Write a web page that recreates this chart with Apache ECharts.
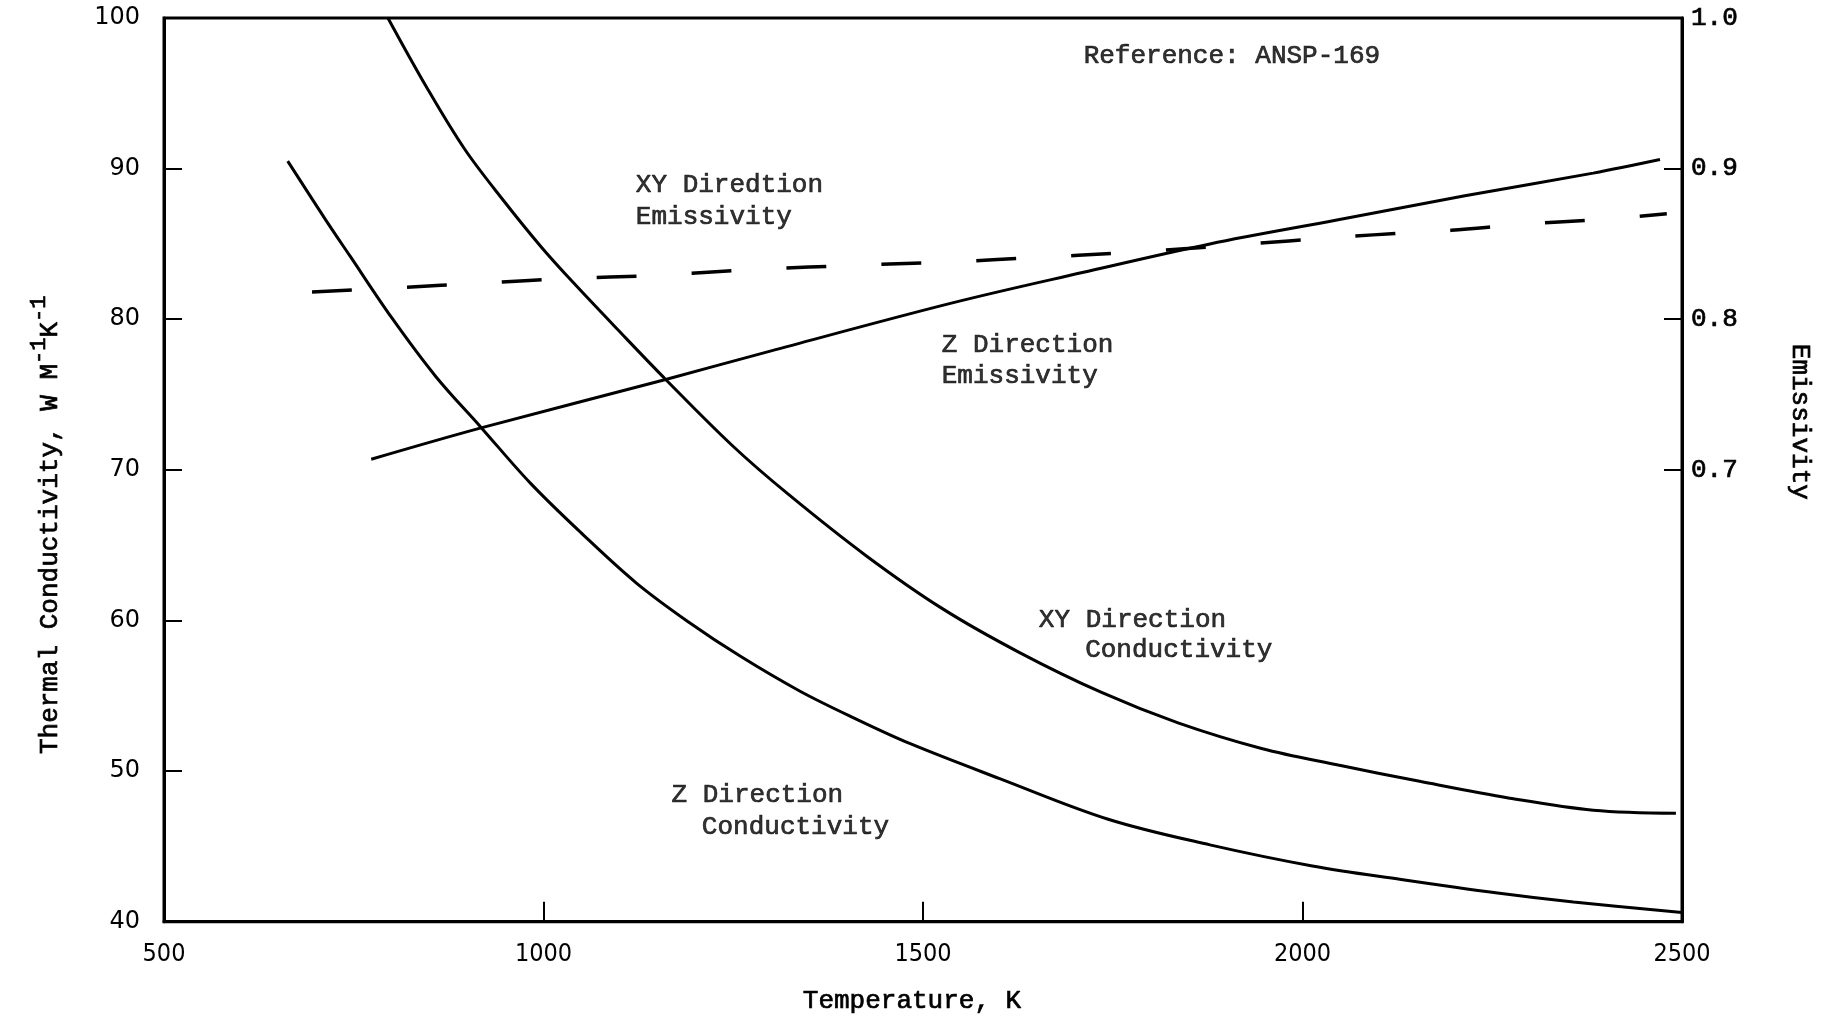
<!DOCTYPE html>
<html>
<head>
<meta charset="utf-8">
<script src="https://cdn.jsdelivr.net/npm/echarts@6/dist/echarts.min.js"></script>
<style>
  html, body { margin: 0; padding: 0; background: #fff; }
  #chart { width: 1826px; height: 1019px; }
</style>
</head>
<body>
<div id="chart"></div>
<script>
// Thermal conductivity (W m^-1 K^-1) against temperature (K)
const xyConductivity = [
  [795, 100.0], [846, 95.4], [896, 91.3], [947, 87.9], [997, 84.8], [1038, 82.5],
  [1098, 79.3], [1161, 76.0], [1249, 71.6], [1322, 68.4], [1425, 64.3], [1525, 60.8],
  [1626, 57.9], [1736, 55.2], [1836, 53.2], [1946, 51.5], [2047, 50.4], [2156, 49.3],
  [2273, 48.2], [2383, 47.4], [2492, 47.2]
];
const zConductivity = [
  [663, 90.5], [713, 86.6], [745, 84.2], [800, 80.1], [858, 76.2], [918, 72.8],
  [983, 69.1], [1052, 65.7], [1122, 62.5], [1191, 59.9], [1260, 57.6], [1338, 55.3],
  [1410, 53.5], [1484, 51.8], [1601, 49.5], [1744, 46.8], [1878, 45.1], [2013, 43.7],
  [2130, 42.8], [2257, 41.9], [2357, 41.3], [2500, 40.6]
];

// Emissivity against temperature (K)
const zEmissivity = [
  [773, 0.707], [919, 0.728], [1161, 0.760], [1300, 0.779], [1540, 0.811],
  [1710, 0.831], [1878, 0.850], [2047, 0.866], [2214, 0.882], [2383, 0.897], [2471, 0.906]
];
const xyEmissivity = [
  [695, 0.818], [811, 0.821], [919, 0.824], [1032, 0.827], [1143, 0.829], [1280, 0.833],
  [1420, 0.836], [1534, 0.838], [1650, 0.841], [1759, 0.844], [1877, 0.848], [1982, 0.852],
  [2093, 0.856], [2196, 0.859], [2290, 0.863], [2385, 0.866], [2480, 0.870]
];

// Axis ticks
const temperatureLabels = [500, 1000, 1500, 2000, 2500];
const temperatureTicks = [1000, 1500, 2000];
const conductivityLabels = [40, 50, 60, 70, 80, 90, 100];
const conductivityTicks = [50, 60, 70, 80, 90];
const emissivityLabels = [0.7, 0.8, 0.9, 1.0];
const emissivityTicks = [0.7, 0.8, 0.9];

// Curve captions, one entry per text line
const captionText = [
  'Reference: ANSP-169',
  'XY Diredtion', 'Emissivity',
  'Z Direction', 'Emissivity',
  'XY Direction', 'Conductivity',
  'Z Direction', 'Conductivity'
];
// Left-middle anchor of each caption line, in temperature / conductivity units
const captionAnchor = [
  [1711, 97.5],
  [1121, 88.9], [1121, 86.8],
  [1524, 78.3], [1524, 76.2],
  [1652, 60.0], [1713, 58.0],
  [1168, 48.4], [1208, 46.3]
];

const MONO = '"Liberation Mono", "DejaVu Sans Mono", monospace';
const INK = '#000';
// typewriter strokes are a little heavier than the plain face
const heavy = { textBorderColor: INK, textBorderWidth: 0.7 };

const chart = echarts.init(document.getElementById('chart'), null, { renderer: 'canvas' });

const curveStyle = { color: INK, width: 3 };

chart.setOption({
  animation: false,
  backgroundColor: '#fff',
  grid: {
    left: 164, right: 144, top: 18, bottom: 96,
    show: true, borderColor: INK, borderWidth: 3, backgroundColor: 'transparent'
  },
  xAxis: {
    type: 'value',
    min: 500, max: 2500, interval: 500,
    axisLine: { show: true, lineStyle: { color: INK, width: 3 } },
    axisTick: { show: true, inside: true, length: 20, customValues: temperatureTicks, lineStyle: { color: INK, width: 2 } },
    axisLabel: {
      customValues: temperatureLabels,
      formatter: v => String(v),
      color: INK, fontFamily: '"DejaVu Sans Condensed", "DejaVu Sans", sans-serif',
      fontSize: 25, margin: 20
    },
    splitLine: { show: false },
    name: 'Temperature, K',
    nameLocation: 'middle',
    nameGap: 66,
    nameTextStyle: Object.assign({ color: INK, fontFamily: MONO, fontSize: 26, padding: [0, 22, 0, 0] }, heavy)
  },
  yAxis: [
    {
      type: 'value',
      min: 40, max: 100, interval: 10,
      axisLine: { show: true, lineStyle: { color: INK, width: 3 } },
      axisTick: { show: true, inside: true, length: 18, customValues: conductivityTicks, lineStyle: { color: INK, width: 2 } },
      axisLabel: {
        customValues: conductivityLabels,
        formatter: v => String(v),
        color: INK, fontFamily: '"DejaVu Sans", sans-serif', fontSize: 24, margin: 24
      },
      splitLine: { show: false },
      name: 'Thermal Conductivity, W M{sup|-1}K{sup|-1}',
      nameLocation: 'middle',
      nameRotate: 90,
      nameGap: 92,
      nameTextStyle: Object.assign({
        color: INK, fontFamily: MONO, fontSize: 26, lineHeight: 44,
        verticalAlign: 'bottom',
        padding: [0, 110, 0, 0],
        rich: {
          sup: Object.assign({ color: INK, fontFamily: MONO, fontSize: 22, lineHeight: 22, verticalAlign: 'top' }, heavy)
        }
      }, heavy)
    },
    {
      type: 'value',
      position: 'right',
      min: 0.4, max: 1.0, interval: 0.1,
      axisLine: { show: true, lineStyle: { color: INK, width: 3 } },
      axisTick: { show: true, inside: true, length: 18, customValues: emissivityTicks, lineStyle: { color: INK, width: 2 } },
      axisLabel: Object.assign({
        customValues: emissivityLabels,
        formatter: v => v.toFixed(1),
        color: INK, fontFamily: MONO, fontSize: 26, margin: 9
      }, heavy),
      splitLine: { show: false },
      name: 'Emissivity',
      nameLocation: 'middle',
      nameRotate: -90,
      nameGap: 105,
      nameTextStyle: Object.assign({ color: INK, fontFamily: MONO, fontSize: 26, padding: [0, 96, 0, 0] }, heavy)
    }
  ],
  series: [
    {
      name: 'XY Direction Conductivity', type: 'line', yAxisIndex: 0,
      data: xyConductivity, showSymbol: false, symbol: 'none',
      smooth: 0.35, lineStyle: curveStyle
    },
    {
      name: 'Z Direction Conductivity', type: 'line', yAxisIndex: 0,
      data: zConductivity, showSymbol: false, symbol: 'none',
      smooth: 0.35, lineStyle: curveStyle
    },
    {
      name: 'Z Direction Emissivity', type: 'line', yAxisIndex: 1,
      data: zEmissivity, showSymbol: false, symbol: 'none',
      smooth: 0.35, lineStyle: curveStyle
    },
    {
      name: 'XY Direction Emissivity', type: 'line', yAxisIndex: 1,
      data: xyEmissivity, showSymbol: false, symbol: 'none',
      smooth: 0.35,
      lineStyle: { color: INK, width: 3.5, type: [40, 55] }
    },
    {
      name: 'captions', type: 'scatter', yAxisIndex: 0, silent: true,
      symbolSize: 1, itemStyle: { color: 'rgba(0,0,0,0)' },
      data: captionAnchor.map((pos, i) => ({ value: pos, label: { formatter: captionText[i] } })),
      label: Object.assign({
        show: true, position: 'right', distance: 0,
        color: INK, fontFamily: MONO, fontSize: 26
      }, heavy),
      z: 10
    }
  ]
});
</script>
</body>
</html>
